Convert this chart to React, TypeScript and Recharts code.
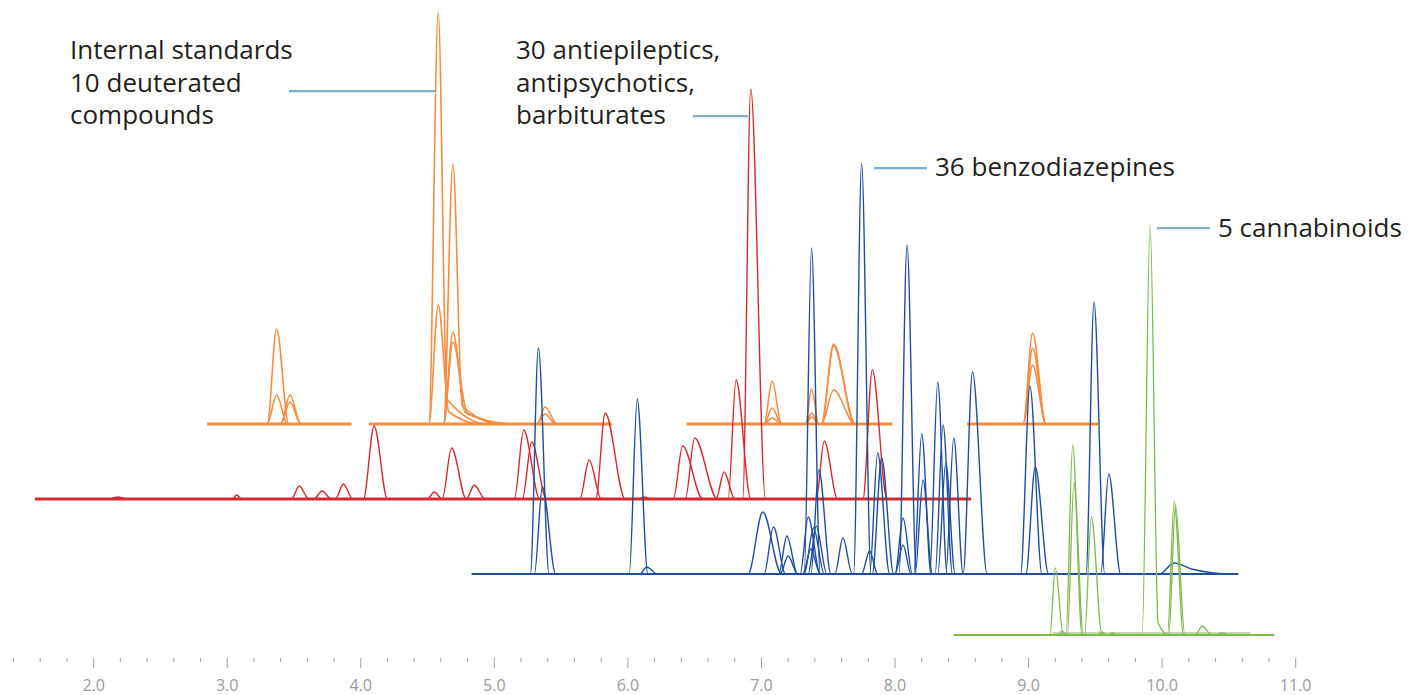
import React from 'react';
import { LineChart, Line, XAxis, YAxis } from 'recharts';

// peak = [start, apex, end, height, shoulderAt?, shoulderHeight?]  (retention time in min, intensity)
type Peak = number[];

const ORANGE_PEAKS: Peak[] = [
  [3.3, 3.37, 3.46, 95],
  [3.3, 3.37, 3.45, 29],
  [3.4, 3.47, 3.55, 29],
  [3.4, 3.47, 3.55, 22],
  [4.51, 4.58, 4.95, 411, 4.645, 25],
  [4.51, 4.58, 4.9, 119, 4.66, 12],
  [4.62, 4.69, 5.05, 260, 4.76, 18],
  [4.62, 4.69, 5.1, 92, 4.78, 12],
  [4.62, 4.69, 5.15, 82, 4.8, 10],
  [5.32, 5.38, 5.47, 17],
  [5.32, 5.38, 5.46, 10],
  [7.02, 7.08, 7.15, 43],
  [7.02, 7.08, 7.15, 16],
  [7.02, 7.08, 7.15, 6],
  [7.33, 7.375, 7.43, 35],
  [7.33, 7.375, 7.43, 11],
  [7.33, 7.375, 7.43, 7],
  [7.45, 7.54, 7.7, 80],
  [7.45, 7.54, 7.7, 78],
  [7.45, 7.54, 7.7, 34],
  [8.96, 9.03, 9.13, 91],
  [8.96, 9.03, 9.13, 76],
  [8.96, 9.03, 9.13, 59],
];
const ORANGE_BASE = [
  [2.85, 3.93],
  [4.06, 5.88],
  [6.44, 7.98],
  [8.54, 9.52],
];

const RED_PEAKS: Peak[] = [
  [2.12, 2.18, 2.25, 2],
  [3.04, 3.07, 3.11, 4],
  [3.48, 3.54, 3.61, 13],
  [3.65, 3.71, 3.78, 8],
  [3.81, 3.87, 3.94, 15],
  [4.02, 4.1, 4.2, 73],
  [4.5, 4.55, 4.61, 7],
  [4.61, 4.68, 4.79, 51],
  [4.79, 4.85, 4.93, 14],
  [5.15, 5.22, 5.34, 69],
  [5.21, 5.28, 5.39, 57],
  [5.64, 5.71, 5.8, 39],
  [5.76, 5.83, 5.98, 86],
  [6.08, 6.12, 6.18, 2],
  [6.34, 6.41, 6.56, 53],
  [6.43, 6.5, 6.67, 61],
  [6.66, 6.72, 6.8, 27],
  [6.75, 6.81, 6.92, 119],
  [6.86, 6.92, 7.03, 410],
  [7.41, 7.47, 7.57, 58],
  [7.76, 7.83, 7.94, 129],
];
const RED_BASE = [[1.56, 8.57]];

const BLUE_PEAKS: Peak[] = [
  [5.27, 5.33, 5.41, 226],
  [5.3, 5.36, 5.46, 87],
  [6.01, 6.07, 6.15, 175],
  [6.09, 6.14, 6.22, 7],
  [6.9, 7.01, 7.15, 62],
  [7.02, 7.09, 7.18, 47],
  [7.13, 7.19, 7.27, 38],
  [7.14, 7.2, 7.27, 18],
  [7.29, 7.35, 7.44, 57],
  [7.31, 7.37, 7.44, 25],
  [7.32, 7.39, 7.47, 46],
  [7.35, 7.41, 7.49, 48],
  [7.37, 7.43, 7.52, 104],
  [7.32, 7.375, 7.44, 326],
  [7.55, 7.61, 7.68, 36],
  [7.69, 7.75, 7.82, 410],
  [7.75, 7.81, 7.87, 23],
  [7.81, 7.87, 7.96, 121],
  [7.83, 7.9, 7.99, 116],
  [8.0, 8.06, 8.13, 56],
  [8.0, 8.06, 8.12, 29],
  [8.03, 8.09, 8.16, 329],
  [8.14, 8.2, 8.27, 140],
  [8.15, 8.21, 8.28, 94],
  [8.26, 8.32, 8.39, 192],
  [8.3, 8.36, 8.43, 149],
  [8.32, 8.38, 8.45, 111],
  [8.38, 8.44, 8.51, 136],
  [8.51, 8.58, 8.69, 202],
  [8.94, 9.01, 9.1, 188],
  [8.98, 9.05, 9.15, 107],
  [9.43, 9.49, 9.57, 272],
  [9.54, 9.6, 9.69, 100],
  [9.98, 10.09, 10.52, 11, 10.22, 5],
];
const BLUE_BASE = [[4.83, 10.57]];

const GREEN_PEAKS: Peak[] = [
  [9.16, 9.2, 9.26, 67],
  [9.23, 9.25, 9.28, 4],
  [9.28, 9.33, 9.4, 190],
  [9.29, 9.34, 9.41, 152],
  [9.42, 9.47, 9.55, 118],
  [9.52, 9.55, 9.58, 3],
  [9.6, 9.63, 9.66, 2],
  [9.85, 9.91, 10.05, 410, 9.97, 12],
  [10.04, 10.09, 10.16, 133],
  [10.05, 10.1, 10.17, 130],
  [10.25, 10.3, 10.37, 9],
  [10.4, 10.45, 10.5, 2],
];
const GREEN_BASE = [
  [8.44, 10.84],
  [9.18, 10.66, 2],
];

const X_TICKS = [
  1.4, 1.6, 1.8, 2.0, 2.2, 2.4, 2.6, 2.8, 3.0, 3.2, 3.4, 3.6, 3.8, 4.0, 4.2, 4.4, 4.6, 4.8, 5.0,
  5.2, 5.4, 5.6, 5.8, 6.0, 6.2, 6.4, 6.6, 6.8, 7.0, 7.2, 7.4, 7.6, 7.8, 8.0, 8.2, 8.4, 8.6, 8.8,
  9.0, 9.2, 9.4, 9.6, 9.8, 10.0, 10.2, 10.4, 10.6, 10.8, 11.0,
];

const LABELS = [
  { lines: ['Internal standards', '10 deuterated', 'compounds'], left: 70, top: 33 },
  { lines: ['30 antiepileptics,', 'antipsychotics,', 'barbiturates'], left: 516, top: 33 },
  { lines: ['36 benzodiazepines'], left: 935, top: 150 },
  { lines: ['5 cannabinoids'], left: 1218, top: 211 },
];
const LEADERS = [
  [289, 436, 91],
  [693, 748, 116],
  [874, 927, 168],
  [1157, 1210, 228],
];

// vertical stacking of the four trace groups
const GROUPS = [
  { name: 'orange', peaks: ORANGE_PEAKS, base: ORANGE_BASE, offset: 234, color: '#f58c40', w: 1.6, bw: 3 },
  { name: 'red', peaks: RED_PEAKS, base: RED_BASE, offset: 159, color: '#d42a2f', w: 1.4, bw: 3 },
  { name: 'blue', peaks: BLUE_PEAKS, base: BLUE_BASE, offset: 84, color: '#1f4e9e', w: 1.4, bw: 2 },
  { name: 'green', peaks: GREEN_PEAKS, base: GREEN_BASE, offset: 23, color: '#7fb84e', w: 1.3, bw: 2 },
];

// flat lead-in / lead-out so the monotone curve leaves the baseline with zero slope
const PAD = 0.03;

const peakPoints = (p: Peak, off: number) => {
  const pts = [
    { x: p[0] - PAD, y: off },
    { x: p[0], y: off },
    { x: p[1], y: off + p[3] },
  ];
  if (p.length > 4) pts.push({ x: p[4], y: off + p[5] });
  pts.push({ x: p[2], y: off });
  pts.push({ x: p[2] + PAD, y: off });
  return pts;
};

const AxisTick = (props: any) => {
  const { x, y, payload } = props;
  const v = payload.value;
  const major = Math.abs(v - Math.round(v)) < 1e-6;
  return (
    <g>
      <line x1={x} x2={x} y1={y} y2={y + (major ? 10 : 4)} stroke="#a0a0a0" strokeWidth={1} />
      {major && (
        <text x={x} y={y + 33} textAnchor="middle" fontSize={16} fill="#9a9a9a" fontFamily="'Open Sans', sans-serif">
          {v.toFixed(1)}
        </text>
      )}
    </g>
  );
};

export default function App() {
  return (
    <div style={{ position: 'absolute', left: 0, top: 0, width: 1408, height: 695, background: '#fff' }}>
      <LineChart width={1408} height={695} margin={{ top: 0, right: 112.3, left: 13.5, bottom: 0 }}>
        <XAxis
          type="number"
          dataKey="x"
          domain={[1.4, 11.0]}
          ticks={X_TICKS}
          interval={0}
          allowDataOverflow
          axisLine={false}
          tickLine={false}
          tickSize={0}
          tickMargin={0}
          height={37}
          tick={<AxisTick />}
        />
        <YAxis type="number" dataKey="y" domain={[0, 658]} hide allowDataOverflow />
        {GROUPS.map((g) => [
          ...g.base.map((b, i) => (
            <Line
              key={`${g.name}-base-${i}`}
              data={[
                { x: b[0], y: g.offset + (b[2] || 0) },
                { x: b[1], y: g.offset + (b[2] || 0) },
              ]}
              dataKey="y"
              type="linear"
              stroke={g.color}
              strokeWidth={b[2] ? 1.2 : g.bw}
              dot={false}
              activeDot={false}
              isAnimationActive={false}
            />
          )),
          ...g.peaks.map((p, i) => (
            <Line
              key={`${g.name}-peak-${i}`}
              data={peakPoints(p, g.offset)}
              dataKey="y"
              type="monotone"
              stroke={g.color}
              strokeWidth={g.w}
              dot={false}
              activeDot={false}
              isAnimationActive={false}
            />
          )),
        ])}
      </LineChart>
      <svg width={1408} height={695} style={{ position: 'absolute', left: 0, top: 0, pointerEvents: 'none' }}>
        {LEADERS.map((l, i) => (
          <g key={i}>
            <line x1={l[0]} x2={l[1]} y1={l[2] + 1.5} y2={l[2] + 1.5} stroke="#e6e8ea" strokeWidth={1.5} />
            <line x1={l[0]} x2={l[1]} y1={l[2]} y2={l[2]} stroke="#5592c6" strokeWidth={1.3} />
          </g>
        ))}
      </svg>
      {LABELS.map((lb, i) => (
        <div
          key={i}
          style={{
            position: 'absolute',
            left: lb.left,
            top: lb.top,
            fontFamily: "'Open Sans', sans-serif",
            fontSize: 26,
            lineHeight: '32.5px',
            color: '#231f20',
            whiteSpace: 'nowrap',
          }}
        >
          {lb.lines.map((t, j) => (
            <div key={j}>{t}</div>
          ))}
        </div>
      ))}
    </div>
  );
}
